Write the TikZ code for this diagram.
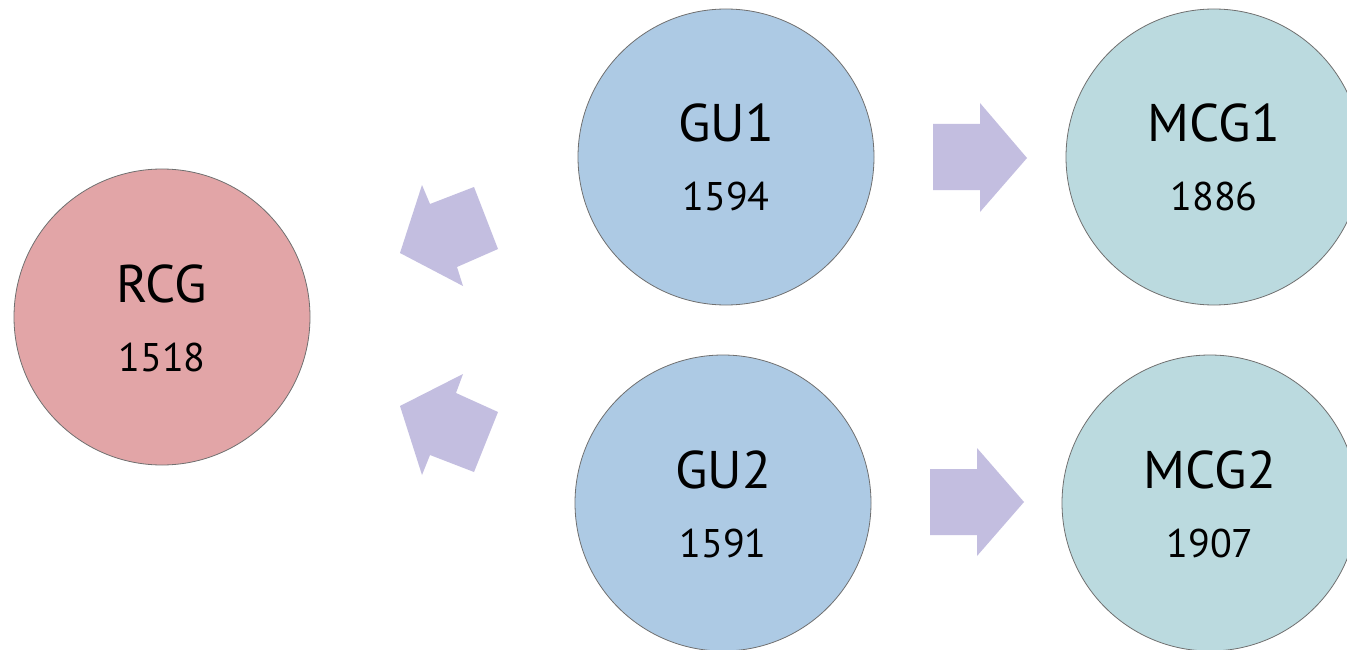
\documentclass[tikz,border=0pt]{standalone}
\usepackage{fontspec}
\setmainfont{PT Sans}
\definecolor{rcgfill}{HTML}{E2A5A7}
\definecolor{gufill}{HTML}{ADCAE4}
\definecolor{mcgfill}{HTML}{BBDADF}
\definecolor{arrowfill}{HTML}{C3BEE0}
\definecolor{rimcol}{HTML}{707070}
\begin{document}
\begin{tikzpicture}[x=1pt,y=-1pt,
  ball/.style={circle,draw=rimcol,line width=0.8pt,minimum size=296pt,inner sep=0pt},
  ttl/.style={anchor=base,font=\fontsize{53}{60}\selectfont,inner sep=0pt},
  num/.style={anchor=base,font=\fontsize{40}{46}\selectfont,inner sep=0pt},
  blockarrow/.style={fill=arrowfill,draw=none}]
\useasboundingbox (0,0) rectangle (1347,650);
\clip (0,0) rectangle (1347,650);
\fill[white] (0,0) rectangle (1347,650);
% circles
\node[ball,fill=rcgfill] (rcg) at (162,317) {};
\node[ball,fill=gufill] (gu1) at (726,157) {};
\node[ball,fill=mcgfill] (mcg1) at (1214,157) {};
\node[ball,fill=gufill] (gu2) at (723,503) {};
\node[ball,fill=mcgfill] (mcg2) at (1210,503) {};
% labels
\foreach \n/\t/\v in {rcg/RCG/1518, gu1/GU1/1594, mcg1/MCG1/1886, gu2/GU2/1591, mcg2/MCG2/1907}{
  \node[ttl] (\n-t) at ([yshift=15pt]\n.center) {\t};
  \node[num] (\n-v) at ([yshift=-54pt]\n.center) {\v};
}
% block arrows
\fill[blockarrow] (400,253) -- (422,185) -- (430,204) -- (474,187) -- (498,249) -- (457,267) -- (463,286) -- cycle;
\fill[blockarrow] (400,406) -- (463,374) -- (456,393) -- (498,412) -- (474,472) -- (430,455) -- (422,475) -- cycle;
\fill[blockarrow] (933,124) -- (980,124) -- (980,103) -- (1027,158) -- (980,212) -- (980,190) -- (933,190) -- cycle;
\fill[blockarrow] (930,469) -- (977,469) -- (977,448) -- (1024,502) -- (977,556) -- (977,535) -- (930,535) -- cycle;
\end{tikzpicture}
\end{document}
